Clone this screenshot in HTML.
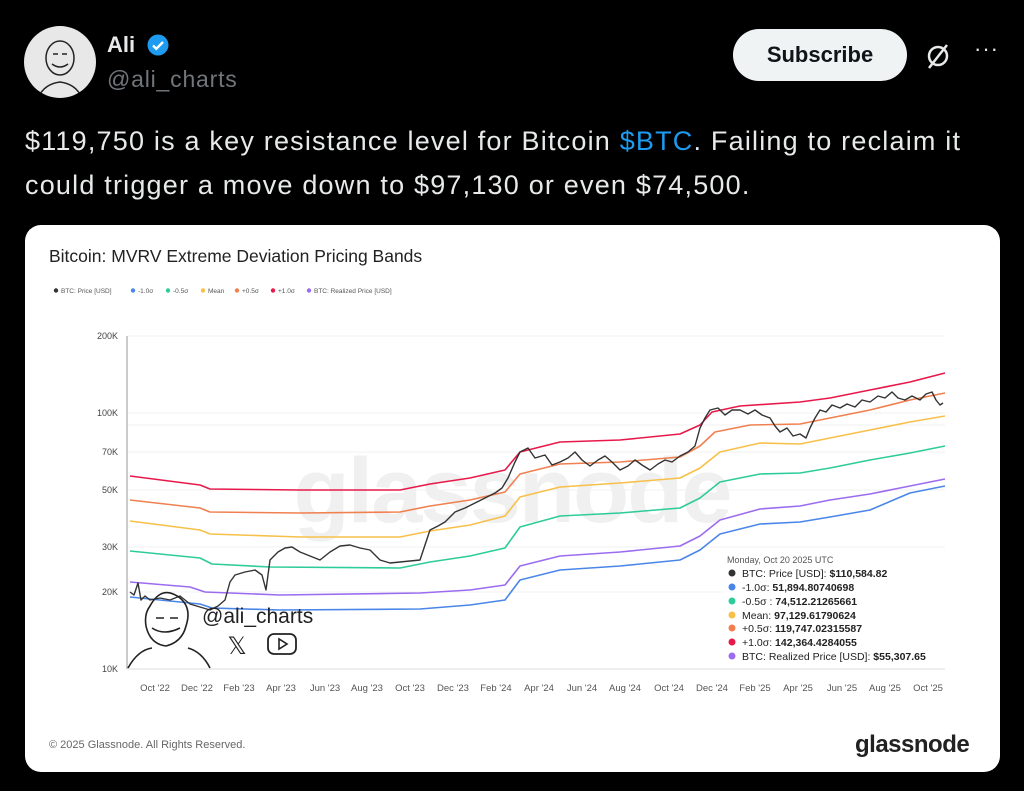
<!DOCTYPE html>
<html><head><meta charset="utf-8"><style>
body{margin:0;width:1024px;height:791px;background:#000;font-family:"Liberation Sans",sans-serif;overflow:hidden;position:relative}
.a{position:absolute;white-space:nowrap}
</style></head><body>
<div class="a" style="left:24px;top:26px;width:72px;height:72px;border-radius:50%;background:#e8e8e8;overflow:hidden">
<svg width="72" height="72"><g fill="none" stroke="#222" stroke-width="1.5"><ellipse cx="36" cy="32" rx="14" ry="17"/><path d="M28 38q8 6 16 0M29 28h5M38 28h5M14 72q6-14 22-16q16 2 22 16"/></g></svg></div>
<div class="a" style="left:107px;top:32px;color:#e7e9ea;font-weight:bold;font-size:22px">Ali</div>
<svg class="a" style="left:146px;top:33px" width="24" height="24" viewBox="0 0 24 24"><circle cx="12" cy="12" r="10.5" fill="#1d9bf0"/><path d="M7 12.5l3.3 3.3L17 9" stroke="#fff" stroke-width="2.4" fill="none"/></svg>
<div class="a" style="left:107px;top:66px;color:#71767b;font-size:23px;letter-spacing:0.8px">@ali_charts</div>
<div class="a" style="left:733px;top:29px;width:174px;height:52px;border-radius:26px;background:#eff3f4;color:#0f1419;font-weight:bold;font-size:22px;line-height:52px;text-align:center">Subscribe</div>
<svg class="a" style="left:924px;top:42px" width="28" height="28"><circle cx="14" cy="14" r="9" stroke="#e7e9ea" stroke-width="2.5" fill="none"/><path d="M23 3L5 26" stroke="#e7e9ea" stroke-width="2.5"/></svg>
<div class="a" style="left:974px;top:36px;color:#e7e9ea;font-size:22px;letter-spacing:1px">···</div>
<div class="a" style="left:25px;top:119px;color:#e7e9ea;font-size:27px;letter-spacing:1.2px;line-height:44px">$119,750 is a key resistance level for Bitcoin <span style="color:#1d9bf0">$BTC</span>. Failing to reclaim it<br>could trigger a move down to $97,130 or even $74,500.</div>
<div class="a" style="left:25px;top:225px;width:975px;height:547px;border-radius:16px;background:#fff"></div>
<div class="a" style="left:49px;top:246px;color:#222;font-size:17.5px">Bitcoin: MVRV Extreme Deviation Pricing Bands</div>
<svg class="a" style="left:0;top:0" width="1024" height="791" font-family="Liberation Sans, sans-serif">
<g font-size="6.5" fill="#555">
<circle cx="56" cy="290.5" r="2.2" fill="#333"/><text x="61" y="293">BTC: Price [USD]</text>
<circle cx="133" cy="290.5" r="2.2" fill="#4a86e8"/><text x="138" y="293">-1.0σ</text>
<circle cx="168" cy="290.5" r="2.2" fill="#2ecc9a"/><text x="173" y="293">-0.5σ</text>
<circle cx="203" cy="290.5" r="2.2" fill="#f7c04a"/><text x="208" y="293">Mean</text>
<circle cx="237" cy="290.5" r="2.2" fill="#f08050"/><text x="242" y="293">+0.5σ</text>
<circle cx="273" cy="290.5" r="2.2" fill="#e8194a"/><text x="278" y="293">+1.0σ</text>
<circle cx="309" cy="290.5" r="2.2" fill="#9b6cf0"/><text x="314" y="293">BTC: Realized Price [USD]</text>
</g>
<g stroke="#f2f2f2" stroke-width="1">
<line x1="128" x2="945" y1="336" y2="336"/><line x1="128" x2="945" y1="413" y2="413"/><line x1="128" x2="945" y1="425" y2="425"/><line x1="128" x2="945" y1="452" y2="452"/><line x1="128" x2="945" y1="490" y2="490"/><line x1="128" x2="945" y1="547" y2="547"/><line x1="128" x2="945" y1="592" y2="592"/>
</g>
<line x1="127" x2="127" y1="336" y2="669" stroke="#999"/>
<line x1="127" x2="945" y1="669" y2="669" stroke="#ddd"/>
<g font-size="9" fill="#444" text-anchor="end">
<text x="118" y="339">200K</text><text x="118" y="416">100K</text><text x="118" y="455">70K</text><text x="118" y="493">50K</text><text x="118" y="550">30K</text><text x="118" y="595">20K</text><text x="118" y="672">10K</text>
</g>
<g font-size="9.5" fill="#555" text-anchor="middle">
<text x="155" y="691">Oct '22</text><text x="197" y="691">Dec '22</text><text x="239" y="691">Feb '23</text><text x="281" y="691">Apr '23</text><text x="325" y="691">Jun '23</text><text x="367" y="691">Aug '23</text><text x="410" y="691">Oct '23</text><text x="453" y="691">Dec '23</text><text x="496" y="691">Feb '24</text><text x="539" y="691">Apr '24</text><text x="582" y="691">Jun '24</text><text x="625" y="691">Aug '24</text><text x="669" y="691">Oct '24</text><text x="712" y="691">Dec '24</text><text x="755" y="691">Feb '25</text><text x="798" y="691">Apr '25</text><text x="842" y="691">Jun '25</text><text x="885" y="691">Aug '25</text><text x="928" y="691">Oct '25</text>
</g>
<text x="512" y="522" font-size="92" fill="#f0f0f0" text-anchor="middle" font-weight="bold" letter-spacing="-2">glassnode</text>
<g fill="none" stroke-width="1.6" stroke-linejoin="round">
<polyline stroke="#e8194a" points="130,476 200,485 210,489 300,490 400,490 430,484 470,478 505,470 520,452 560,442 620,440 680,434 700,425 712,412 740,406 800,402 830,398 870,390 910,382 945,373"/>
<polyline stroke="#f08050" points="130,500 200,508 210,512 300,513 400,512 430,506 470,500 505,492 520,474 560,464 620,462 680,457 700,446 715,432 750,425 800,424 830,418 870,410 910,400 945,393"/>
<polyline stroke="#f7c04a" points="130,521 200,530 210,534 300,537 400,537 430,531 470,525 505,516 520,497 560,487 620,483 680,478 700,468 720,452 760,443 800,444 830,438 870,430 910,422 945,416"/>
<polyline stroke="#2ecc9a" points="130,551 200,558 212,564 270,567 400,568 430,562 470,556 505,548 520,527 560,516 620,513 680,508 700,498 720,482 760,474 800,473 830,468 870,460 910,453 945,446"/>
<polyline stroke="#9b6cf0" points="130,582 190,587 205,592 280,595 420,593 470,590 505,585 520,566 560,556 620,552 680,546 700,536 720,520 760,509 800,506 830,500 870,494 910,486 945,479"/>
<polyline stroke="#4a86e8" points="130,597 200,604 212,608 280,610 420,609 470,605 505,600 520,580 560,570 620,566 680,560 700,550 720,534 760,524 800,522 830,517 870,510 910,493 945,486"/>
<polyline stroke="#333" stroke-width="1.4" points="130,592 134,595 138,583 141,600 145,596 150,600 160,598 170,600 180,596 190,604 200,607 210,610 218,606 225,600 230,582 235,575 245,572 255,570 262,575 266,590 270,560 278,552 285,548 292,547 300,552 310,556 320,560 330,552 340,546 350,545 360,548 370,550 380,560 390,563 400,562 410,561 420,560 425,545 430,530 438,526 445,522 455,512 465,508 475,503 485,498 495,493 502,488 508,478 515,462 520,452 528,448 535,458 545,455 552,465 560,462 568,458 575,452 582,460 590,466 598,460 605,456 612,462 620,470 628,466 635,460 642,465 650,470 658,464 665,460 672,462 680,456 688,452 695,446 700,428 705,418 710,410 718,408 725,415 732,410 740,410 748,414 755,410 762,415 770,418 775,426 780,432 787,428 793,436 800,434 806,438 810,428 815,418 820,410 826,412 832,405 840,408 847,404 855,407 862,400 870,402 878,396 885,398 892,392 898,398 905,400 912,396 920,400 926,394 932,392 936,400 940,405 943,403"/>
</g>
<g fill="none" stroke="#222" stroke-width="1.6">
<path d="M150 606q12-22 30-8q12 10 6 28q-4 16-20 20q-16-2-20-20q-2-12 4-20z"/><path d="M152 628q12 8 28 0M156 618h8M170 618h8"/><path d="M128 668q10-18 24-20M210 668q-8-16-22-20"/>
</g>
<text x="202" y="623" font-size="21" fill="#222">@ali_charts</text>
<text x="237" y="654" font-size="24" fill="#222" text-anchor="middle">𝕏</text>
<rect x="268" y="634" width="28" height="20" rx="6" fill="none" stroke="#222" stroke-width="1.8"/><path d="M279 639v10l8-5z" fill="none" stroke="#222" stroke-width="1.6"/>
<rect x="722" y="550" width="222" height="116" fill="#fff" opacity="0.85"/>
<text x="727" y="563" font-size="9" fill="#555">Monday, Oct 20 2025 UTC</text>
<g font-size="10.5" fill="#222">
<circle cx="732" cy="573" r="3.5" fill="#333"/><text x="742" y="577">BTC: Price [USD]: <tspan font-weight="bold">$110,584.82</tspan></text>
<circle cx="732" cy="587" r="3.5" fill="#4a86e8"/><text x="742" y="591">-1.0σ: <tspan font-weight="bold">51,894.80740698</tspan></text>
<circle cx="732" cy="601" r="3.5" fill="#2ecc9a"/><text x="742" y="605">-0.5σ : <tspan font-weight="bold">74,512.21265661</tspan></text>
<circle cx="732" cy="615" r="3.5" fill="#f7c04a"/><text x="742" y="619">Mean: <tspan font-weight="bold">97,129.61790624</tspan></text>
<circle cx="732" cy="628" r="3.5" fill="#f08050"/><text x="742" y="632">+0.5σ: <tspan font-weight="bold">119,747.02315587</tspan></text>
<circle cx="732" cy="642" r="3.5" fill="#e8194a"/><text x="742" y="646">+1.0σ: <tspan font-weight="bold">142,364.4284055</tspan></text>
<circle cx="732" cy="656" r="3.5" fill="#9b6cf0"/><text x="742" y="660">BTC: Realized Price [USD]: <tspan font-weight="bold">$55,307.65</tspan></text>
</g>
<text x="49" y="748" font-size="11" fill="#666">© 2025 Glassnode. All Rights Reserved.</text>
<text x="855" y="752" font-size="24" fill="#222" font-weight="bold" letter-spacing="-0.5">glassnode</text>
</svg>
</body></html>
